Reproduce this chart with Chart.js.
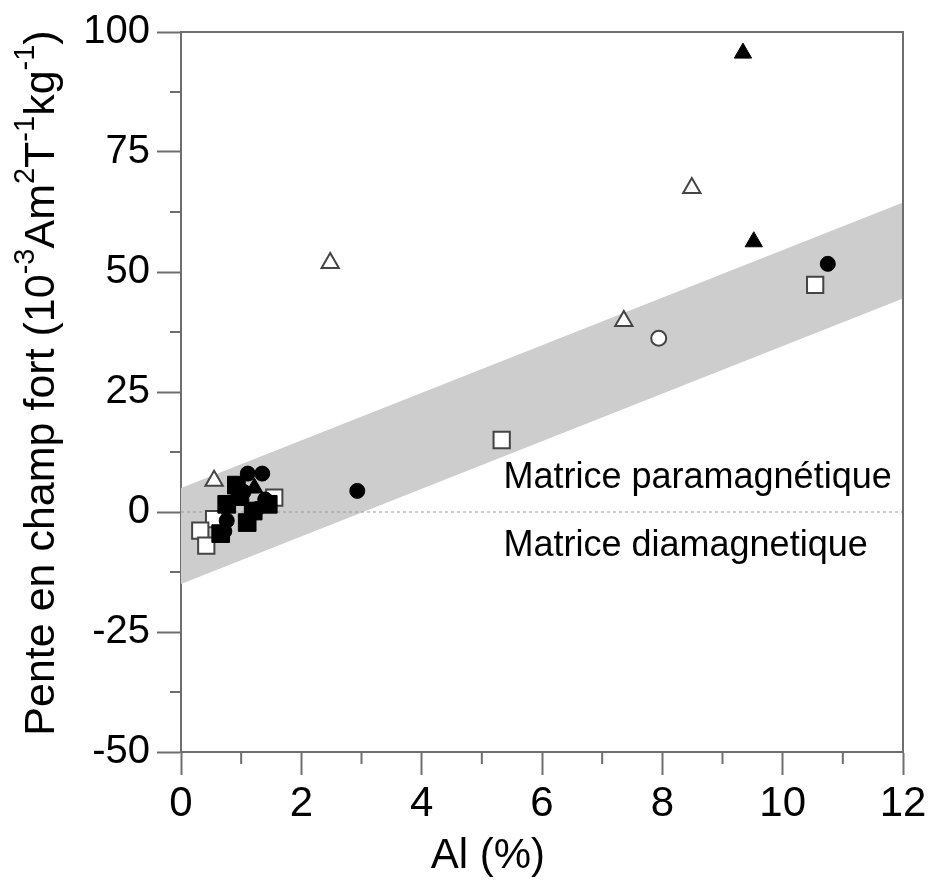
<!DOCTYPE html>
<html lang="fr">

<head>
    <meta charset="UTF-8">
    <title>Pente en champ fort vs Al</title>
    <script src="https://cdn.jsdelivr.net/npm/chart.js@4/dist/chart.umd.min.js"></script>
    <style>
        html, body { margin: 0; padding: 0; background: #fff; }
        #wrap { width: 931px; height: 882px; }
    </style>
</head>

<body>
    <div id="wrap"><canvas id="chart"></canvas></div>

    <script>
        // values
        const filledSquareX = [0.92, 0.76, 1.1, 0.98, 0.66, 1.45, 1.2];
        const filledSquareY = [5.6, 1.6, -2.2, 3.2, -4.5, 1.6, 0.2];

        const filledCircleX = [1.11, 1.35, 0.76, 1.26, 1.04, 1.4, 0.72, 2.93, 10.75];
        const filledCircleY = [8.0, 8.0, -1.8, 0.6, 4.2, 2.6, -4.0, 4.4, 51.7];

        const filledTriangleX = [1.22, 9.34, 9.52];
        const filledTriangleY = [5.0, 95.6, 56.3];

        const openSquareX = [1.55, 0.55, 0.32, 0.42, 5.33, 10.54];
        const openSquareY = [3.0, -1.5, -3.9, -7.0, 15.0, 47.3];

        const openTriangleX = [0.55, 2.48, 8.49, 7.36];
        const openTriangleY = [6.5, 51.9, 67.5, 39.8];

        const openCircleX = [7.94];
        const openCircleY = [36.2];

        // grey band (upper and lower edges)
        const bandX = [0, 12];
        const bandUpper = [5, 64.5];
        const bandLower = [-15, 44.5];

        const zeroX = [0, 12];
        const zeroY = [0, 0];

        const labelPara = "Matrice paramagnétique";
        const labelDia = "Matrice diamagnetique";
        const xTitle = "Al (%)";

        const pts = (xs, ys) => xs.map((x, i) => ({ x: x, y: ys[i] }));

        const FONT = "'Liberation Sans', Arial, sans-serif";
        const AXIS = '#6e6e6e';

        const filled = { backgroundColor: '#000', borderColor: '#000', borderWidth: 1 };
        const open = { backgroundColor: '#fff', borderColor: '#444', borderWidth: 2 };

        const extras = {
            id: 'extras',
            afterDatasetsDraw(chart) {
                const ctx = chart.ctx;
                const x = chart.scales.x, y = chart.scales.y;
                const a = chart.chartArea;
                ctx.save();

                // frame top and right
                ctx.strokeStyle = AXIS;
                ctx.lineWidth = 2;
                ctx.beginPath();
                ctx.moveTo(a.left, a.top);
                ctx.lineTo(a.right, a.top);
                ctx.lineTo(a.right, a.bottom);
                ctx.stroke();

                // minor ticks
                ctx.beginPath();
                for (let v = 1; v < 12; v += 2) {
                    const px = x.getPixelForValue(v);
                    ctx.moveTo(px, a.bottom);
                    ctx.lineTo(px, a.bottom + 12);
                }
                for (let v = -37.5; v < 100; v += 25) {
                    const py = y.getPixelForValue(v);
                    ctx.moveTo(a.left, py);
                    ctx.lineTo(a.left - 11, py);
                }
                ctx.stroke();

                // annotations
                ctx.fillStyle = '#000';
                ctx.font = "36px " + FONT;
                ctx.textAlign = 'left';
                ctx.textBaseline = 'middle';
                ctx.fillText(labelPara, x.getPixelForValue(5.36), y.getPixelForValue(7));
                ctx.fillText(labelDia, x.getPixelForValue(5.36), y.getPixelForValue(-7.2));

                // x axis title
                ctx.font = "42px " + FONT;
                ctx.textAlign = 'center';
                ctx.fillText(xTitle, x.getPixelForValue(5.1), 856);

                // y axis title with superscripts
                const parts = [
                    ["Pente en champ fort (10", false],
                    ["-3", true],
                    ["Am", false],
                    ["2", true],
                    ["T", false],
                    ["-1", true],
                    ["kg", false],
                    ["-1", true],
                    [")", false]
                ];
                const base = "43px " + FONT, sup = "29px " + FONT;
                let total = 0;
                for (const [t, s] of parts) {
                    ctx.font = s ? sup : base;
                    total += ctx.measureText(t).width;
                }
                ctx.textAlign = 'left';
                ctx.translate(42, 383);
                ctx.rotate(-Math.PI / 2);
                ctx.textBaseline = 'middle';
                let cx = -total / 2;
                for (const [t, s] of parts) {
                    ctx.font = s ? sup : base;
                    ctx.fillText(t, cx, s ? -16 : 0);
                    cx += ctx.measureText(t).width;
                }
                ctx.restore();
            }
        };

        const data = {
            datasets: [
                { label: 'filled squares', data: pts(filledSquareX, filledSquareY), pointStyle: 'rect', pointRadius: 12.5, ...filled, order: 0 },
                { label: 'filled circles', data: pts(filledCircleX, filledCircleY), pointStyle: 'circle', pointRadius: 7.5, ...filled, order: 0 },
                { label: 'filled triangles', data: pts(filledTriangleX, filledTriangleY), pointStyle: 'triangle', pointRadius: 10, ...filled, order: 0 },
                { label: 'open squares', data: pts(openSquareX, openSquareY), pointStyle: 'rect', pointRadius: 11.5, ...open, order: 0 },
                { label: 'open triangles', data: pts(openTriangleX, openTriangleY), pointStyle: 'triangle', pointRadius: 10, ...open, order: 0 },
                { label: 'open circles', data: pts(openCircleX, openCircleY), pointStyle: 'circle', pointRadius: 7.5, ...open, order: 0 },
                {
                    label: 'zero', data: pts(zeroX, zeroY), showLine: true, pointRadius: 0,
                    borderColor: '#9a9a9a', borderWidth: 1, borderDash: [3, 3], order: 5
                },
                {
                    label: 'band upper', data: pts(bandX, bandUpper), showLine: true, pointRadius: 0,
                    borderWidth: 0, borderColor: 'rgba(0,0,0,0)', backgroundColor: '#cdcdcd', fill: '+1', order: 8
                },
                {
                    label: 'band lower', data: pts(bandX, bandLower), showLine: true, pointRadius: 0,
                    borderWidth: 0, borderColor: 'rgba(0,0,0,0)', fill: false, order: 9
                }
            ]
        };

        new Chart(document.getElementById('chart'), {
            type: 'scatter',
            data: data,
            plugins: [extras],
            options: {
                responsive: true,
                maintainAspectRatio: false,
                animation: false,
                events: [],
                layout: { padding: { left: 0, right: 28, top: 32, bottom: 0 } },
                plugins: {
                    legend: { display: false },
                    tooltip: { enabled: false },
                    filler: { drawTime: 'beforeDatasetsDraw' }
                },
                scales: {
                    x: {
                        type: 'linear',
                        min: 0, max: 12,
                        border: { color: AXIS, width: 2 },
                        grid: { drawOnChartArea: false, tickLength: 23, tickColor: AXIS, tickWidth: 2 },
                        ticks: { stepSize: 2, color: '#000', padding: 4, font: { family: FONT, size: 42 } },
                        afterFit(s) { s.height = 130; s.paddingLeft = 0; s.paddingRight = 0; }
                    },
                    y: {
                        type: 'linear',
                        min: -50, max: 100,
                        border: { color: AXIS, width: 2 },
                        grid: { drawOnChartArea: false, tickLength: 24, tickColor: AXIS, tickWidth: 2 },
                        ticks: { stepSize: 25, color: '#000', padding: 7, font: { family: FONT, size: 40 } },
                        afterFit(s) { s.width = 181; s.paddingTop = 0; s.paddingBottom = 0; }
                    }
                }
            }
        });
    </script>
</body>

</html>
